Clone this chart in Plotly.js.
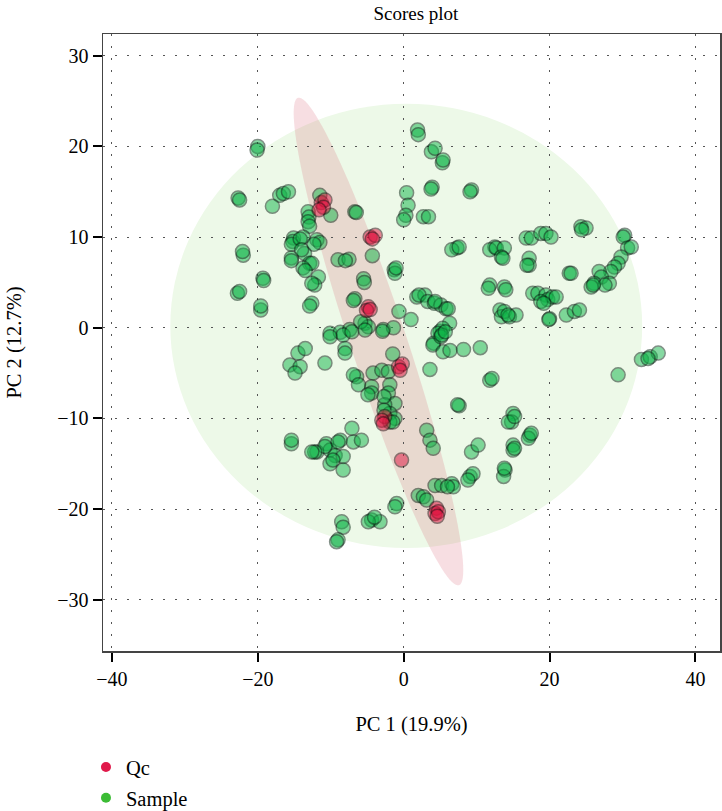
<!DOCTYPE html>
<html>
<head>
<meta charset="utf-8">
<script src="https://cdn.plot.ly/plotly-3.0.1.min.js"></script>
<style>html,body{margin:0;padding:0;background:#fff;}#chart{width:722px;height:811px;}</style>
</head>
<body>
<div id="chart"></div>
<script>
// Sample scores (PC1, PC2)
const sampleX = [
-20.0,-20.1,-22.7,-22.5,-17.0,-16.5,-15.8,-18.0,-22.0,-22.1,-19.3,-19.2,-22.8,-22.5,-19.6,-19.6,
-11.5,-10.0,-13.1,-13.0,-13.1,-12.9,-15.1,-15.2,-15.4,-13.8,-14.2,-11.9,-11.5,-12.3,-15.4,-15.4,-13.6,-14.0,-12.9,-12.6,-13.8,-13.5,-11.7,-12.2,-12.6,-12.6,-12.9,
-9.0,-7.5,-8.0,-6.7,-6.5,-6.7,-6.9,-5.5,-5.4,-4.3,-1.3,-1.2,-1.05,-5.3,-4.85,-5.9,-0.65,1.0,-10.1,-8.7,-7.4,-8.3,-10.1,-7.1,-5.3,-2.8,-1.4,-2.9,
1.9,2.0,3.8,4.3,5.3,5.4,3.9,3.75,9.3,9.1,0.4,0.6,0.3,0.0,2.7,3.4,
1.8,2.9,2.1,3.3,4.2,5.1,5.8,6.1,4.3,6.3,5.0,5.35,4.7,7.3,6.6,7.6,12.5,11.8,12.7,13.8,13.4,13.6,11.8,11.6,13.8,14.0,
13.2,13.4,13.8,14.5,15.4,14.3,16.8,17.5,18.8,19.5,20.2,17.2,17.2,16.9,17.7,18.4,19.5,19.75,20.4,20.9,18.8,19.2,22.7,22.95,20.0,19.9,22.3,23.4,24.1,
24.3,25.0,24.4,30.3,30.1,30.7,31.2,29.8,29.4,28.9,28.4,26.8,27.1,26.1,25.7,28.2,27.6,26.0,
32.6,33.8,34.9,33.5,29.4,15.0,14.8,14.35,15.2,17.3,17.1,17.5,15.0,15.0,15.2,13.9,13.7,13.8,
-8.05,-8.05,-10.8,-1.5,3.6,4.1,4.0,5.4,6.35,8.2,10.5,5.1,5.2,5.7,11.8,12.1,
-6.45,-6.9,-4.2,-3.0,-2.1,-4.4,-1.9,-4.4,-2.1,-1.2,-2.6,-1.9,-6.2,-4.9,-2.7,-2.7,-1.2,-1.9,-1.5,
3.15,3.6,4.05,9.3,10.2,9.1,9.5,8.8,4.3,5.2,6.6,6.8,6.0,2.0,2.7,3.15,-0.96,-1.2,-4.4,-3.25,-4.85,-4.0,-8.5,-8.3,-9.0,-9.2,
-7.1,-10.6,-8.7,-6.9,-5.8,-11.9,-10.1,-9.4,-8.3,-10.1,-8.3,-10.8,-9.0,-12.2,-9.7,
-15.6,-14.2,-14.9,-14.5,-13.5,-15.4,-15.4,-12.6,7.6,7.4
];
const sampleY = [
20.0,19.6,14.3,14.1,14.6,14.8,15.0,13.4,8.0,8.4,5.45,5.2,3.8,4.0,1.95,2.4,
14.6,12.4,12.8,12.2,11.7,11.2,9.9,9.5,9.2,10.0,9.8,9.7,9.4,9.2,7.7,7.4,8.2,8.6,7.1,7.1,6.6,6.3,5.6,4.7,4.9,2.7,2.4,
7.5,7.55,7.4,12.8,12.7,3.2,3.0,5.4,5.0,7.95,6.4,6.0,6.6,0.5,0.1,0.66,1.8,0.9,-0.6,-0.5,-0.2,-0.8,-1.0,-0.44,-0.25,-0.2,0.0,-0.4,
21.8,21.3,19.4,19.8,18.2,18.5,15.5,15.3,15.2,15.0,14.9,13.5,12.4,11.9,12.25,12.25,
3.4,3.6,3.6,2.9,2.7,2.5,2.1,2.1,2.9,0.5,-0.4,-0.07,-0.6,8.8,8.6,8.9,8.9,8.6,8.8,8.8,7.8,7.65,4.7,4.35,4.5,4.2,
1.95,1.2,1.8,1.2,1.4,1.4,9.9,9.9,10.4,10.4,10.0,7.65,6.9,6.9,3.8,3.8,3.6,3.1,3.4,3.4,2.9,2.7,6.0,6.0,1.0,0.9,1.4,1.8,1.95,
11.15,11.0,10.8,10.2,10.0,8.8,8.9,7.8,7.1,6.7,6.2,6.2,5.6,4.9,4.5,4.9,4.7,4.7,
-3.5,-3.2,-2.8,-3.4,-5.2,-9.45,-10.4,-10.4,-9.8,-11.85,-12.2,-11.65,-12.95,-13.5,-13.3,-15.7,-16.4,-15.5,
-2.3,-2.8,-3.9,-2.9,-4.6,-1.7,-1.9,-2.65,-2.5,-2.4,-2.2,-1.0,-0.8,-0.44,-5.8,-5.6,
-5.4,-5.2,-5.0,-4.7,-4.85,-6.5,-6.3,-7.2,-7.2,-8.35,-8.5,-9.45,-6.3,-7.4,-7.6,-9.1,-10.0,-10.4,-10.4,
-11.3,-12.4,-13.3,-13.7,-12.95,-16.4,-16.1,-16.8,-17.4,-17.4,-17.2,-17.55,-17.55,-18.5,-18.65,-19.0,-19.4,-19.75,-21.2,-21.4,-21.4,-20.9,-21.4,-22.0,-23.4,-23.6,
-11.1,-12.8,-12.4,-12.6,-12.4,-13.7,-13.5,-14.1,-14.2,-15.0,-15.7,-13.1,-12.6,-13.7,-14.6,
-4.1,-4.3,-5.0,-2.8,-2.3,-12.8,-12.4,-13.7,-8.6,-8.5
];
// QC scores
const qcX = [-11.3,-10.8,-11.0,-11.6,-4.6,-3.9,-4.3,-4.85,-5.1,-4.6,-0.7,-0.2,-0.5,-2.6,-3.0,-2.8,-0.3,4.5,4.3,4.75,4.6];
const qcY = [13.8,14.1,13.3,13.0,10.0,10.2,9.8,2.3,1.9,2.0,-4.3,-4.0,-4.7,-9.8,-10.2,-10.6,-14.6,-19.9,-20.5,-20.3,-20.8];

const groupNames = ['Qc', 'Sample'];
const xTicks = [-40, -20, 0, 20, 40];
const yTicks = [-30, -20, -10, 0, 10, 20, 30];

// confidence ellipses (data units)
const sampleEllipse = {x0: -32.0, x1: 32.7, y0: -24.3, y1: 24.7};
const qcEllipse = {cx: -3.46, cy: -1.52, ax: 11.04, ay: -26.88, bx: 3.65, by: 0.97};

function ellipsePath(e) {
  let d = '';
  const n = 120;
  for (let i = 0; i <= n; i++) {
    const t = 2 * Math.PI * i / n;
    const x = e.cx + e.ax * Math.cos(t) + e.bx * Math.sin(t);
    const y = e.cy + e.ay * Math.cos(t) + e.by * Math.sin(t);
    d += (i === 0 ? 'M' : 'L') + x.toFixed(3) + ',' + y.toFixed(3);
  }
  return d + 'Z';
}

const FONT = 'Liberation Serif, Times New Roman, serif';

const traces = [
  {type: 'scatter', mode: 'markers', x: sampleX, y: sampleY, showlegend: false, hoverinfo: 'x+y',
   marker: {size: 14, color: '#0fb548', opacity: 0.5, line: {color: '#042210', width: 1.5}}},
  {type: 'scatter', mode: 'markers', x: qcX, y: qcY, showlegend: false, hoverinfo: 'x+y',
   marker: {size: 14, color: '#e0123f', opacity: 0.5, line: {color: '#2a0a10', width: 1.5}}},
  {type: 'scatter', mode: 'markers', x: [null], y: [null], name: groupNames[0], legendgroup: 'a',
   marker: {size: 10, color: '#e0194a'}},
  {type: 'scatter', mode: 'markers', x: [null], y: [null], name: groupNames[1], legendgroup: 'b',
   marker: {size: 10, color: '#3cbc35'}}
];

const axisCommon = {
  showline: true, mirror: true, linecolor: '#444', linewidth: 1.5,
  ticks: 'outside', ticklen: 9, tickwidth: 2, tickcolor: '#000',
  showgrid: true, gridcolor: '#555', gridwidth: 1, griddash: '1.5px,10.5px',
  zeroline: false, tickfont: {family: FONT, size: 20, color: '#000'}
};

const layout = {
  width: 722, height: 811,
  margin: {l: 103, r: 2, t: 34, b: 160, autoexpand: false},
  paper_bgcolor: '#fff', plot_bgcolor: '#fff',
  font: {family: FONT, color: '#000'},
  title: {text: 'Scores plot', font: {family: FONT, size: 19, color: '#000'},
          x: 0.576, xref: 'container', xanchor: 'center', y: 0.984, yref: 'container', yanchor: 'middle'},
  xaxis: Object.assign({}, axisCommon, {range: [-41.23, 43.37], tickvals: xTicks, ticktext: xTicks.map(v => v < 0 ? '\u2212' + (-v) : String(v)),
    title: {text: 'PC 1 (19.9%)', font: {family: FONT, size: 20.5, color: '#000'}, standoff: 28}}),
  yaxis: Object.assign({}, axisCommon, {range: [-35.66, 32.4], tickvals: yTicks, ticktext: yTicks.map(v => v < 0 ? '\u2212' + (-v) : String(v)),
    title: {text: 'PC 2 (12.7%)', font: {family: FONT, size: 20.5, color: '#000'}, standoff: 30}}),
  showlegend: true,
  legend: {x: -0.0276, xanchor: 'left', y: -0.156, yanchor: 'top', orientation: 'v',
           font: {family: FONT, size: 20.5, color: '#000'}, tracegroupgap: 1, bgcolor: 'rgba(0,0,0,0)'},
  shapes: [
    {type: 'circle', xref: 'x', yref: 'y', x0: sampleEllipse.x0, x1: sampleEllipse.x1, y0: sampleEllipse.y0, y1: sampleEllipse.y1,
     fillcolor: 'rgb(237,249,232)', line: {width: 0}, layer: 'below'},
    {type: 'path', xref: 'x', yref: 'y', path: ellipsePath(qcEllipse),
     fillcolor: 'rgba(215,90,110,0.2)', line: {width: 0}, layer: 'below'}
  ]
};

Plotly.newPlot('chart', traces, layout, {displayModeBar: false, staticPlot: true});
</script>
</body>
</html>
